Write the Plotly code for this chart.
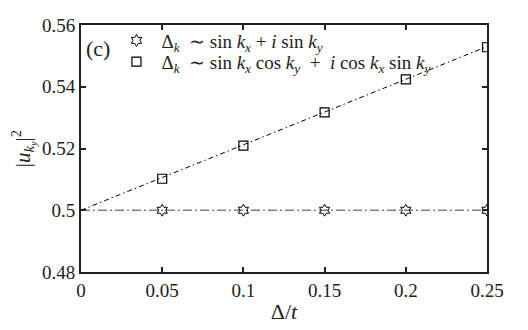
import plotly.graph_objects as go

# data
delta = [0.05, 0.1, 0.15, 0.2, 0.25]
u_sin = [0.5, 0.5, 0.5, 0.5, 0.5]
u_mix = [0.5102, 0.5209, 0.5317, 0.5424, 0.5528]
fit_x = [0, 0.25]
fit_mix = [0.5, 0.5530]
fit_sin = [0.5, 0.5]

font = 'Liberation Serif, Times New Roman, DejaVu Serif, serif'
ink = '#222'
sp = '\u00a0'

name_sin = f'Δ<sub><i>k</i></sub>{sp}{sp}∼{sp}sin{sp}<i>k<sub>x</sub></i>{sp}+{sp}<i>i</i>{sp}sin{sp}<i>k<sub>y</sub></i>'
name_mix = (f'Δ<sub><i>k</i></sub>{sp}{sp}∼{sp}sin{sp}<i>k<sub>x</sub></i>{sp}cos{sp}<i>k<sub>y</sub></i>'
            f'{sp}{sp}+{sp}{sp}<i>i</i>{sp}cos{sp}<i>k<sub>x</sub></i>{sp}sin{sp}<i>k<sub>y</sub></i>')

fig = go.Figure()
fig.add_trace(go.Scatter(x=fit_x, y=fit_sin, mode='lines', showlegend=False,
                         line=dict(color='#808080', dash='9px,3px,2px,3px', width=1.3)))
fig.add_trace(go.Scatter(x=fit_x, y=fit_mix, mode='lines', showlegend=False,
                         line=dict(color='black', dash='5px,3px,1.5px,3px', width=1)))
fig.add_trace(go.Scatter(x=delta, y=u_sin, mode='markers', name=name_sin, legend='legend',
                         marker=dict(symbol='hexagram-open', size=9, color='black', line=dict(width=1))))
fig.add_trace(go.Scatter(x=delta, y=u_mix, mode='markers', name=name_mix, legend='legend2',
                         marker=dict(symbol='square-open', size=9, color='black', line=dict(width=1.2))))

axis = dict(showline=True, linecolor=ink, linewidth=2, mirror='ticks', ticks='inside',
            ticklen=5, tickcolor=ink, tickwidth=1.5, showgrid=False, zeroline=False,
            automargin=False, tickfont=dict(family=font, size=19, color=ink))
fig.update_xaxes(axis, range=[0, 0.25], tickvals=[0, 0.05, 0.1, 0.15, 0.2, 0.25],
                 ticktext=['0', '0.05', '0.1', '0.15', '0.2', '0.25'],
                 title=dict(text='Δ/<i>t</i>', font=dict(family=font, size=22, color=ink), standoff=4))
fig.update_yaxes(axis, range=[0.48, 0.56], tickvals=[0.48, 0.5, 0.52, 0.54, 0.56],
                 ticktext=['0.48', '0.5', '0.52', '0.54', '0.56'],
                 title=dict(text='|<i>u</i><sub><i>k<sub>y</sub></i></sub>|<sup>2</sup>',
                            font=dict(family=font, size=21, color=ink), standoff=13))
fig.add_annotation(text='(c)', x=0.002, y=0.5572, xref='x', yref='y', xanchor='left', yanchor='top',
                   showarrow=False, font=dict(family=font, size=22, color=ink))

leg = dict(x=0.075, xanchor='left', yanchor='middle', bgcolor='rgba(0,0,0,0)',
           font=dict(family=font, size=19, color=ink), itemwidth=40)
# page body adds an 8px offset, so margins are shifted to line the axes up
fig.update_layout(width=528, height=330, margin=dict(l=73, r=49, t=17, b=66),
                  plot_bgcolor='white', paper_bgcolor='white',
                  legend=dict(leg, y=0.937), legend2=dict(leg, y=0.851))
fig.write_html("out.html")
